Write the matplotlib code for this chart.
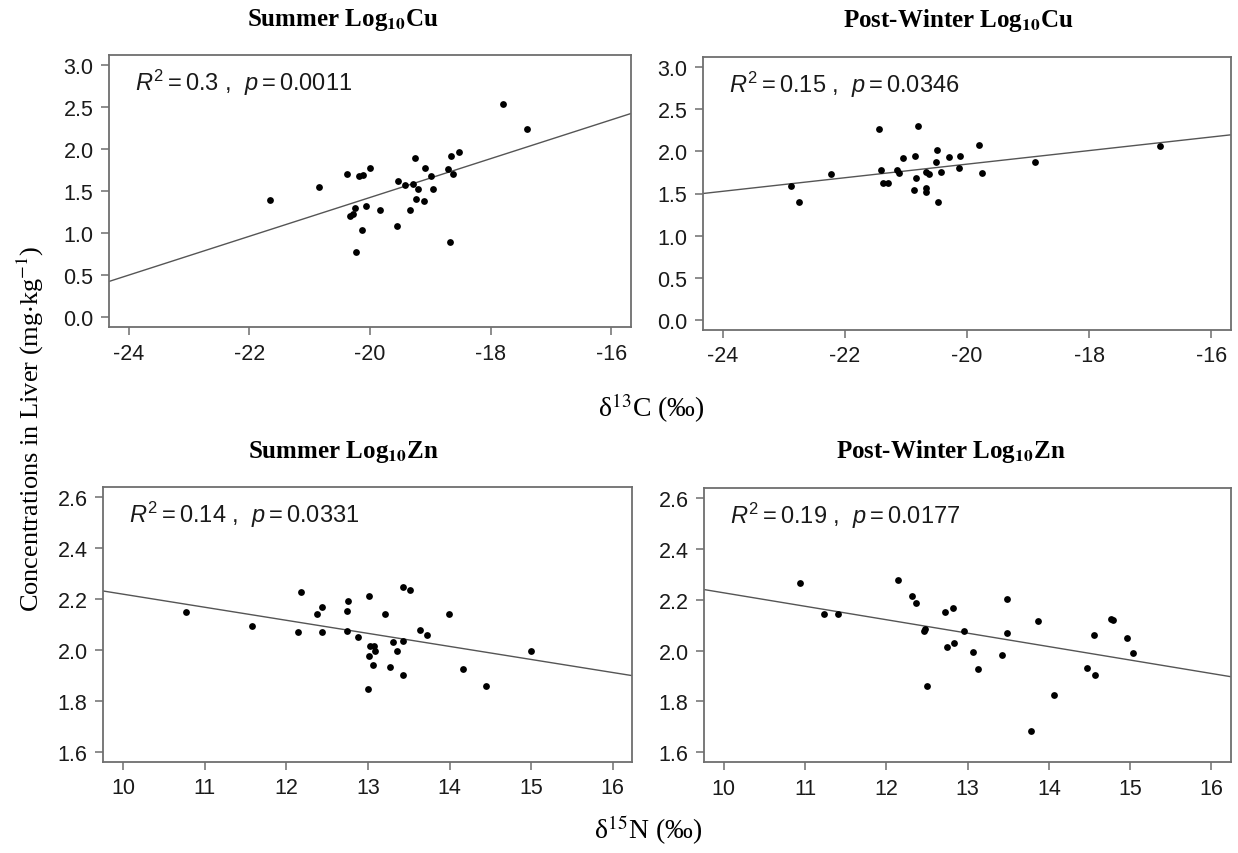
import numpy as np
import matplotlib
matplotlib.use("Agg")
import matplotlib.pyplot as plt

plt.rcParams['mathtext.fontset'] = 'custom'
plt.rcParams['mathtext.rm'] = 'Liberation Sans'
plt.rcParams['mathtext.it'] = 'Liberation Sans:italic'
plt.rcParams['mathtext.bf'] = 'Liberation Sans:bold'

# ---------------- data ----------------
# Summer Cu (d13C vs log10 Cu)
sc_x = [-21.65, -20.85, -20.38, -20.18, -20.11, -20.00, -20.34, -20.29, -20.25, -20.07,
        -20.13, -20.23, -19.84, -19.56, -19.53, -19.42, -19.29, -19.25, -19.21, -19.24,
        -19.34, -19.11, -19.09, -18.99, -18.95, -18.71, -18.66, -18.63, -18.52, -18.68,
        -17.79, -17.40]
sc_y = [1.40, 1.55, 1.70, 1.68, 1.69, 1.77, 1.21, 1.23, 1.30, 1.32,
        1.04, 0.78, 1.28, 1.08, 1.62, 1.57, 1.58, 1.90, 1.53, 1.41,
        1.28, 1.38, 1.77, 1.68, 1.52, 1.76, 1.92, 1.71, 1.97, 0.90,
        2.54, 2.24]

# Post-winter Cu
wc_x = [-22.89, -22.75, -22.23, -21.44, -21.41, -21.38, -21.30, -21.15, -21.11, -21.05,
        -20.85, -20.87, -20.84, -20.80, -20.68, -20.63, -20.67, -20.68, -20.51, -20.49,
        -20.42, -20.48, -20.30, -20.14, -20.11, -19.80, -19.75, -18.89, -16.85]
wc_y = [1.59, 1.40, 1.73, 2.27, 1.78, 1.62, 1.62, 1.78, 1.74, 1.92,
        1.94, 1.54, 1.68, 2.30, 1.75, 1.73, 1.57, 1.52, 1.88, 2.02,
        1.76, 1.40, 1.93, 1.80, 1.94, 2.08, 1.74, 1.88, 2.07]

# Summer Zn (d15N vs log10 Zn)
sz_x = [10.77, 11.58, 12.15, 12.18, 12.38, 12.44, 12.44, 12.75, 12.74, 12.76,
        12.88, 13.02, 13.03, 13.08, 13.09, 13.01, 13.06, 13.00, 13.21, 13.31,
        13.36, 13.27, 13.43, 13.43, 13.52, 13.43, 13.64, 13.72, 13.99, 14.17,
        14.45, 15.00]
sz_y = [2.149, 2.094, 2.070, 2.227, 2.142, 2.166, 2.068, 2.074, 2.151, 2.191,
        2.051, 2.211, 2.016, 2.016, 1.996, 1.974, 1.941, 1.847, 2.142, 2.031,
        1.996, 1.931, 2.035, 2.247, 2.236, 1.899, 2.077, 2.057, 2.142, 1.926,
        1.856, 1.993]

# Post-winter Zn
wz_x = [10.94, 11.23, 11.40, 12.14, 12.32, 12.37, 12.46, 12.48, 12.50, 12.72,
        12.82, 12.75, 12.83, 12.95, 13.07, 13.13, 13.42, 13.48, 13.49, 13.78,
        13.87, 14.06, 14.47, 14.56, 14.57, 14.76, 14.79, 14.96, 15.04]
wz_y = [2.266, 2.143, 2.143, 2.280, 2.215, 2.189, 2.079, 2.085, 1.860, 2.152,
        2.169, 2.016, 2.029, 2.077, 1.993, 1.928, 1.983, 2.071, 2.202, 1.684,
        2.117, 1.824, 1.930, 2.062, 1.906, 2.125, 2.121, 2.049, 1.990]

# regression lines (intercept, slope)
intercepts = [6.047, 3.463, 2.731, 2.758]
slopes = [0.2311, 0.0807, -0.0513, -0.0530]

titles = [r"Summer Log$_{\mathbf{10}}$Cu", r"Post-Winter Log$_{\mathbf{10}}$Cu",
          r"Summer Log$_{\mathbf{10}}$Zn", r"Post-Winter Log$_{\mathbf{10}}$Zn"]
stats = [r"$R^2=0.3$ ,  $p=0.0011$", r"$R^2=0.15$ ,  $p=0.0346$",
         r"$R^2=0.14$ ,  $p=0.0331$", r"$R^2=0.19$ ,  $p=0.0177$"]

c_xticks = [-24, -22, -20, -18, -16]
c_yticks = [0.0, 0.5, 1.0, 1.5, 2.0, 2.5, 3.0]
n_xticks = [10, 11, 12, 13, 14, 15, 16]
n_yticks = [1.6, 1.8, 2.0, 2.2, 2.4, 2.6]

# ---------------- layout ----------------
W, H = 1238, 854
fig = plt.figure(figsize=(W / 100, H / 100), dpi=100)

boxes = [(109.3, 630.8, 56.0, 328.3),
         (703.3, 1231.0, 58.2, 330.8),
         (103.3, 632.4, 487.7, 762.7),
         (704.3, 1231.0, 489.3, 763.3)]

datasets = [(sc_x, sc_y), (wc_x, wc_y), (sz_x, sz_y), (wz_x, wz_y)]
title_pos = [(343, 20), (958, 20), (343, 452), (951, 452)]

spine_col = '#6e6e6e'
for i, ((l, r, t, b), (xs, ys)) in enumerate(zip(boxes, datasets)):
    ax = fig.add_axes([l / W, 1 - b / H, (r - l) / W, (b - t) / H])
    ax.scatter(xs, ys, s=24, color='black', zorder=3, linewidths=0)
    ax.axline((0, intercepts[i]), slope=slopes[i], color='#555555', lw=1.0, zorder=2)
    if i < 2:
        ax.set_xlim(-24.32, -15.68)
        ax.set_ylim(-0.12, 3.12)
        ax.set_xticks(c_xticks)
        ax.set_yticks(c_yticks)
        ax.set_xticklabels([str(v) for v in c_xticks])
        ax.set_yticklabels([f"{v:.1f}" for v in c_yticks])
    else:
        ax.set_xlim(9.76, 16.24)
        ax.set_ylim(1.56, 2.64)
        ax.set_xticks(n_xticks)
        ax.set_yticks(n_yticks)
        ax.set_xticklabels([str(v) for v in n_xticks])
        ax.set_yticklabels([f"{v:.1f}" for v in n_yticks])
    for sp in ax.spines.values():
        sp.set_color(spine_col)
        sp.set_linewidth(1.3)
    ax.tick_params(axis='both', direction='out', length=5.8, width=1.1,
                   color=spine_col, pad=5.5, labelsize=15.5, labelcolor='#1a1a1a')
    for lab in ax.get_xticklabels() + ax.get_yticklabels():
        lab.set_family('Liberation Sans')
    ax.annotate(stats[i], xy=(0, 1), xycoords='axes fraction',
                xytext=(18.7, -25.2), textcoords='offset points',
                ha='left', va='baseline', fontsize=17, color='#1a1a1a',
                family='Liberation Sans', math_fontfamily='custom')
    tx, ty = title_pos[i]
    fig.text(tx / W, 1 - ty / H, titles[i], ha='center', va='center',
             fontsize=18, fontweight='bold', family='Liberation Serif',
             math_fontfamily='stix')

fig.text(30 / W, 1 - 429 / H, r"Concentrations in Liver (mg$\cdot$kg$^{-1}$)",
         rotation=90, ha='center', va='center', fontsize=19,
         family='Liberation Serif', math_fontfamily='stix')
fig.text(651 / W, 1 - 408 / H, r"δ$^{13}$C (‰)", ha='center', va='center',
         fontsize=20, family='Liberation Serif', math_fontfamily='stix')
fig.text(648 / W, 1 - 830 / H, r"δ$^{15}$N (‰)", ha='center', va='center',
         fontsize=20, family='Liberation Serif', math_fontfamily='stix')

fig.savefig("out.png", dpi=100, facecolor='white')
